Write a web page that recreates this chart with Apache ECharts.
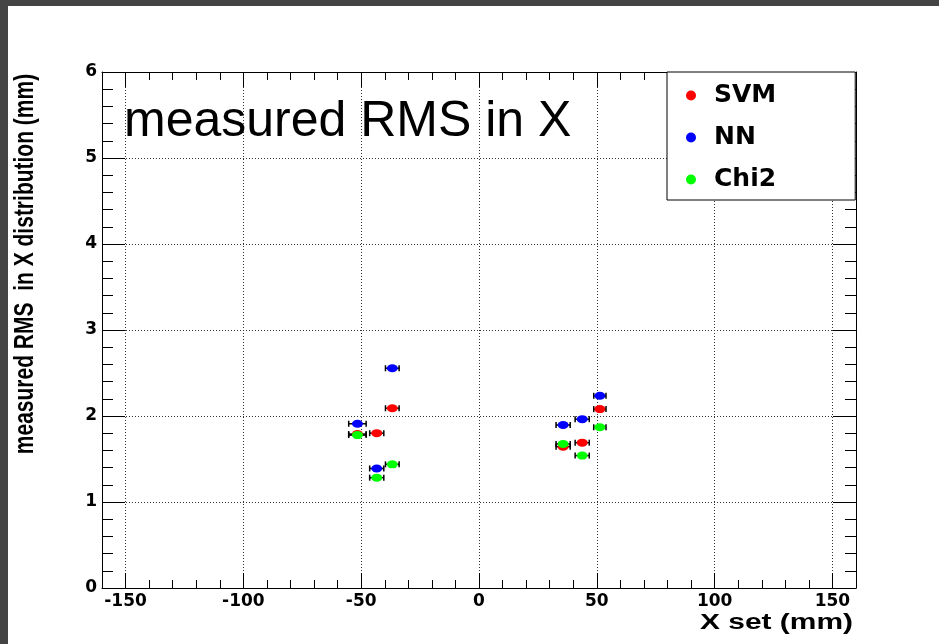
<!DOCTYPE html>
<html>
<head>
<meta charset="utf-8">
<script src="https://cdn.jsdelivr.net/npm/echarts@6/dist/echarts.min.js"></script>
<style>
  html, body { margin: 0; padding: 0; background: #fff; }
  #chart { width: 939px; height: 644px; }
</style>
</head>
<body>
<div id="chart"></div>
<script>
// Beam positions (mm) at which the RMS was measured
const X_SET = [-51.6, -43.4, -36.8, 35.7, 43.8, 51.3];
// Horizontal uncertainty on each set position (mm)
const X_ERR = [3.7, 3.0, 2.9, 3.0, 3.0, 2.6];
// Measured RMS of the reconstructed X distribution (mm), one array per method
const SVM_RMS = [1.79, 1.80, 2.09, 1.643, 1.69, 2.08];
const NN_RMS = [1.91, 1.39, 2.555, 1.895, 1.963, 2.235];
const CHI2_RMS = [1.778, 1.283, 1.438, 1.675, 1.54, 1.869];

const METHODS = ['SVM', 'NN', 'Chi2'];
const METHOD_VALUES = [SVM_RMS, NN_RMS, CHI2_RMS];
const METHOD_COLORS = ['#ff0000', '#0000ff', '#00ff00'];

// Axis ticks and labels
const X_MAJOR = [-150, -100, -50, 0, 50, 100, 150];
const Y_MAJOR = [0, 1, 2, 3, 4, 5, 6];
function steps(from, to, step) {
  const out = [];
  for (let v = from; v <= to + 1e-9; v += step) out.push(Math.round(v * 1000) / 1000);
  return out;
}
const X_MINOR = steps(-160, 160, 10);
const Y_MINOR = steps(0, 6, 0.2);

const X_RANGE = [-160, 160];
const Y_RANGE = [0, 6];

const ink = { color: '#000', width: 1 };
const tickFont = { fontFamily: 'DejaVu Sans', fontWeight: 'bold', fontSize: 17, color: '#000' };
const gridDots = { show: true, lineStyle: { color: '#333', width: 1, type: [1, 2] } };

function xAxisDef(position, ticks, len, opts) {
  return Object.assign({
    type: 'value', position: position, min: X_RANGE[0], max: X_RANGE[1],
    axisLine: { show: false, onZero: false },
    axisTick: { show: true, inside: true, length: len, customValues: ticks, lineStyle: ink },
    axisLabel: { show: false },
    splitLine: { show: false }
  }, opts || {});
}
function yAxisDef(position, ticks, len, opts) {
  return Object.assign({
    type: 'value', position: position, min: Y_RANGE[0], max: Y_RANGE[1],
    axisLine: { show: false, onZero: false },
    axisTick: { show: true, inside: true, length: len, customValues: ticks, lineStyle: ink },
    axisLabel: { show: false },
    splitLine: { show: false }
  }, opts || {});
}
const frame = { show: true, onZero: false, lineStyle: ink };

function errorBars(params, api) {
  const x = api.value(0), y = api.value(1), e = api.value(2);
  const a = api.coord([x - e, y]);
  const b = api.coord([x + e, y]);
  const cap = 3;
  const st = { stroke: '#000', lineWidth: 1.5 };
  return {
    type: 'group',
    children: [
      { type: 'line', shape: { x1: a[0], y1: a[1], x2: b[0], y2: b[1] }, style: st },
      { type: 'line', shape: { x1: a[0], y1: a[1] - cap, x2: a[0], y2: a[1] + cap }, style: st },
      { type: 'line', shape: { x1: b[0], y1: b[1] - cap, x2: b[0], y2: b[1] + cap }, style: st }
    ]
  };
}

const series = [];
METHODS.forEach(function (name, k) {
  const vals = METHOD_VALUES[k];
  series.push({
    name: name + ' error',
    type: 'custom',
    renderItem: errorBars,
    xAxisIndex: 0, yAxisIndex: 0,
    encode: { x: 0, y: 1 },
    data: X_SET.map(function (x, i) { return [x, vals[i], X_ERR[i]]; }),
    silent: true
  });
  series.push({
    name: name,
    type: 'scatter',
    xAxisIndex: 0, yAxisIndex: 0,
    symbol: 'path://M0,4 A5,4 0 1,1 10,4 A5,4 0 1,1 0,4 Z',
    symbolSize: [11, 8],
    itemStyle: { color: METHOD_COLORS[k], opacity: 1 },
    data: X_SET.map(function (x, i) { return [x, vals[i]]; })
  });
});

const chart = echarts.init(document.getElementById('chart'), null, { renderer: 'canvas' });
chart.setOption({
  animation: false,
  backgroundColor: '#fff',
  title: {
    text: 'measured RMS in X',
    left: 124, top: 97, padding: 0,
    textStyle: { fontFamily: 'Liberation Sans', fontWeight: 'normal', fontSize: 50, color: '#000' }
  },
  grid: { left: 102, right: 83, top: 72, bottom: 56, containLabel: false },
  xAxis: [
    xAxisDef('bottom', X_MAJOR, 15, {
      axisLine: frame,
      axisLabel: Object.assign({ show: true, customValues: X_MAJOR, margin: 5 }, tickFont),
      splitLine: gridDots
    }),
    xAxisDef('bottom', X_MINOR, 8),
    xAxisDef('top', X_MAJOR, 15, { axisLine: frame }),
    xAxisDef('top', X_MINOR, 8)
  ],
  yAxis: [
    yAxisDef('left', Y_MAJOR, 23, {
      axisLine: frame,
      axisLabel: Object.assign({ show: true, customValues: Y_MAJOR, margin: 5 }, tickFont),
      splitLine: gridDots
    }),
    yAxisDef('left', Y_MINOR, 11),
    yAxisDef('right', Y_MAJOR, 23, { axisLine: frame }),
    yAxisDef('right', Y_MINOR, 11)
  ],
  legend: {
    data: METHODS,
    orient: 'vertical',
    left: 667, top: 72,
    padding: [11, 79, 8, 19],
    itemGap: 17,
    itemWidth: 36, itemHeight: 10,
    icon: 'circle',
    backgroundColor: '#fff',
    borderColor: '#000', borderWidth: 1, borderRadius: 0,
    selectedMode: false,
    textStyle: { fontFamily: 'DejaVu Sans', fontWeight: 'bold', fontSize: 25, color: '#000', lineHeight: 20, width: 62 },
    z: 10
  },
  graphic: [
    { type: 'rect', left: 0, top: 0, shape: { width: 939, height: 6 }, style: { fill: '#444' }, silent: true },
    { type: 'rect', left: 0, top: 0, shape: { width: 8, height: 644 }, style: { fill: '#444' }, silent: true },
    {
      type: 'text', x: 25, y: 264, rotation: Math.PI / 2, scaleY: 1.35,
      style: { text: 'measured RMS  in X distribution (mm)', font: 'bold 21px "Liberation Sans"', fill: '#000', align: 'center', verticalAlign: 'middle' }
    },
    {
      type: 'text', x: 853, y: 623, scaleX: 1.36,
      style: { text: 'X set (mm)', font: 'bold 22px "Liberation Sans"', fill: '#000', align: 'right', verticalAlign: 'middle' }
    }
  ],
  series: series
});
</script>
</body>
</html>
